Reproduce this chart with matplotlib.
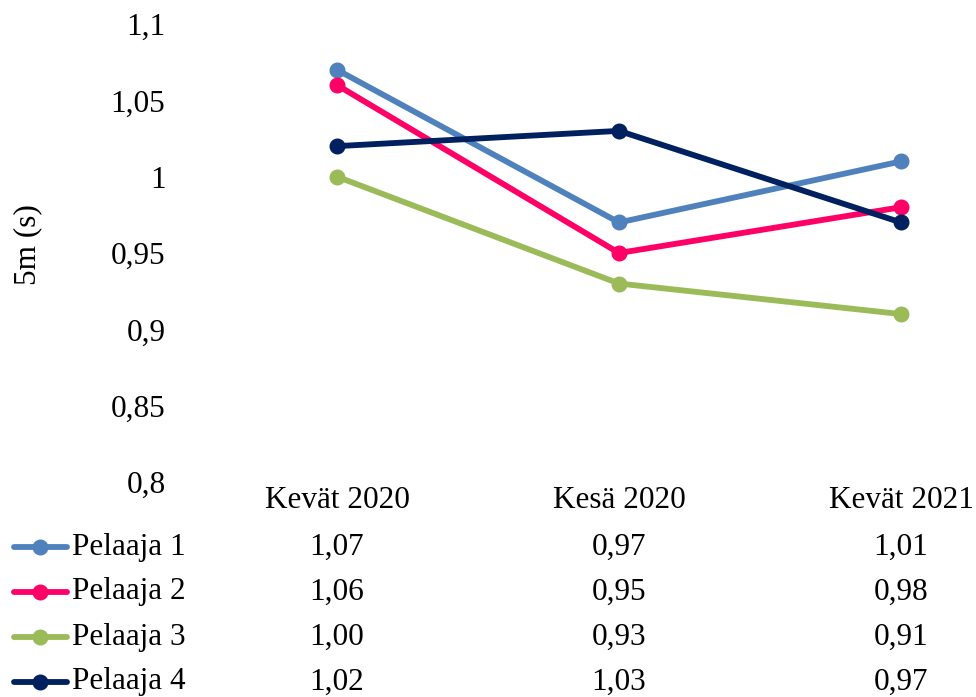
import matplotlib
matplotlib.use("Agg")
import matplotlib.pyplot as plt
from matplotlib.lines import Line2D
from matplotlib.transforms import blended_transform_factory

categories = ["Kevät 2020", "Kesä 2020", "Kevät 2021"]
series_names = ["Pelaaja 1", "Pelaaja 2", "Pelaaja 3", "Pelaaja 4"]
pelaaja1 = [1.07, 0.97, 1.01]
pelaaja2 = [1.06, 0.95, 0.98]
pelaaja3 = [1.00, 0.93, 0.91]
pelaaja4 = [1.02, 1.03, 0.97]
series_values = [pelaaja1, pelaaja2, pelaaja3, pelaaja4]
colors = ["#4F81BD", "#FF0066", "#9BBB59", "#002060"]
y_ticks = [0.8, 0.85, 0.9, 0.95, 1.0, 1.05, 1.1]
y_label = "5m (s)"

plt.rcParams["font.family"] = ["Liberation Serif", "DejaVu Serif"]
FS = 22.5
LW = 4.2
MS = 10.5

W, H = 976, 697
fig = plt.figure(figsize=(W / 100, H / 100), dpi=100)

# plot area in pixel geometry
left, right, top, bottom = 196, 976, 24, 482
ax = fig.add_axes([left / W, (H - bottom) / H, (right - left) / W, (bottom - top) / H])
step = 282.0
ax.set_xlim(-0.5, -0.5 + (right - left) / step)
ax.set_ylim(0.8, 1.1)

x = list(range(len(categories)))
for vals, col in zip(series_values, colors):
    ax.plot(x, vals, color=col, lw=LW, marker="o", ms=MS, solid_capstyle="round",
            clip_on=False)

for s in ax.spines.values():
    s.set_visible(False)
ax.set_xticks([])
ax.set_yticks(y_ticks)
ax.set_yticklabels([("%g" % v).replace(".", ",") for v in y_ticks], fontsize=FS)
ax.tick_params(axis="y", length=0, pad=22)

fig.text(28 / W, (H - 245) / H, y_label, rotation=90, ha="center", va="center",
         fontsize=FS)

# data table below the plot
tr = blended_transform_factory(ax.transData, fig.transFigure)
header_y = 500
row_ys = [547, 592, 637, 682]
for xi, cat in zip(x, categories):
    fig.text(xi, (H - header_y) / H, cat, transform=tr, ha="center", va="center",
             fontsize=FS)
for name, vals, col, ry in zip(series_names, series_values, colors, row_ys):
    yf = (H - ry) / H
    key = Line2D([14 / W, 40 / W, 67 / W], [yf, yf, yf], transform=fig.transFigure,
                 color=col, lw=LW, marker="o", ms=MS, markevery=[1],
                 solid_capstyle="round")
    fig.add_artist(key)
    fig.text(72 / W, yf, name, ha="left", va="center", fontsize=FS)
    for xi, v in zip(x, vals):
        fig.text(xi, yf, ("%.2f" % v).replace(".", ","), transform=tr,
                 ha="center", va="center", fontsize=FS)

fig.savefig("out.png", dpi=100)
